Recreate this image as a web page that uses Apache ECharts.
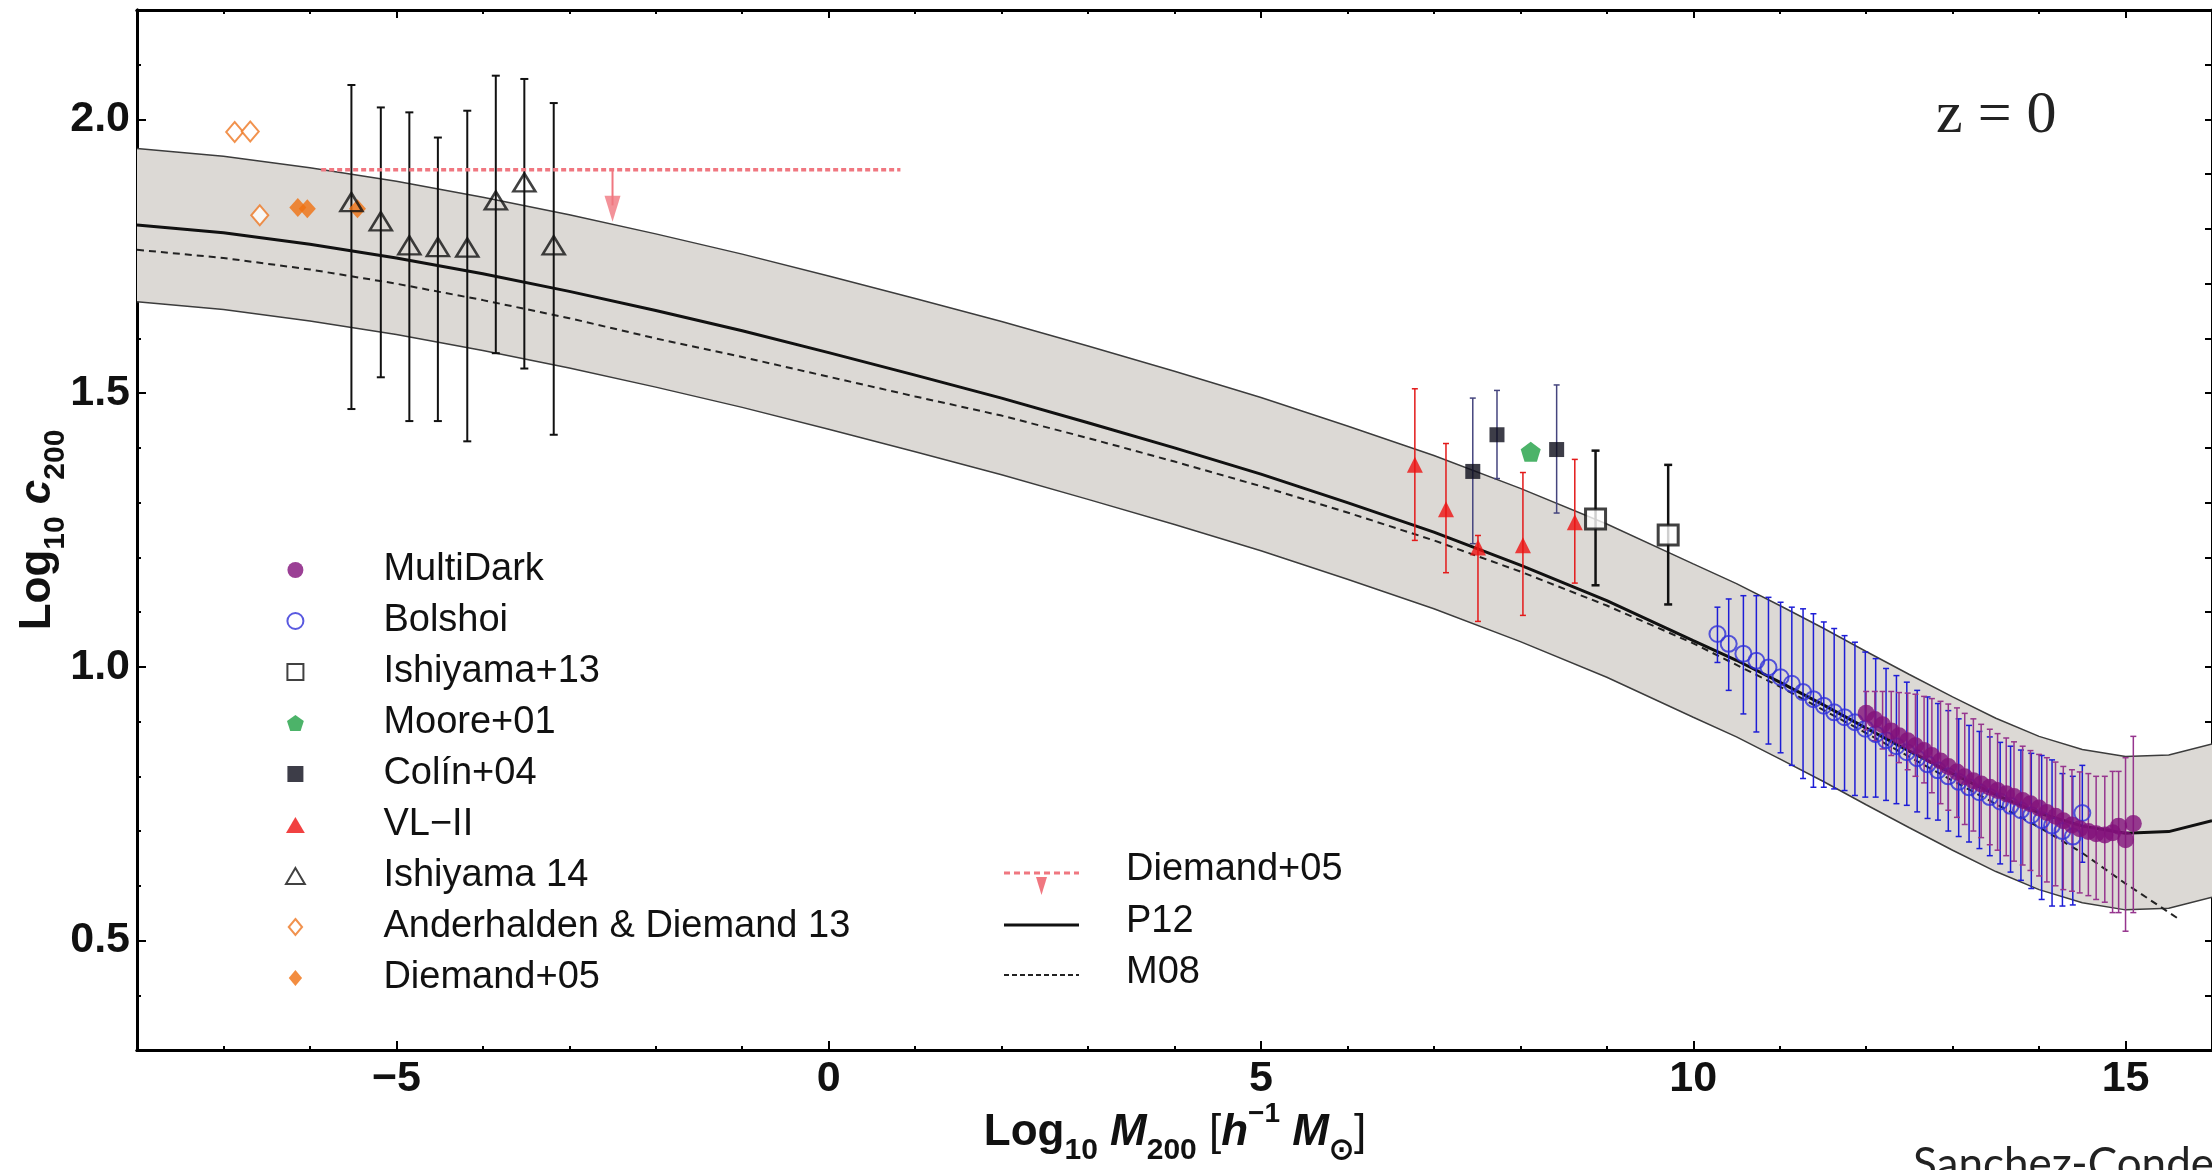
<!DOCTYPE html>
<html>
<head>
<meta charset="utf-8">
<title>Log c200 vs Log M200</title>
<script src="https://cdn.jsdelivr.net/npm/echarts@6/dist/echarts.min.js"></script>
<style>
html,body{margin:0;padding:0;background:#fff;}
#chart{width:2212px;height:1170px;}
</style>
</head>
<body>
<div id="chart"></div>
<script>
// model curves
var curveX = [-8,-7,-6,-5,-4,-3,-2,-1,0,1,2,3,4,5,6,7,8,9,10,10.5,11,11.5,12,12.5,13,13.5,14,14.5,15,15.5,16];
var p12Y   = [1.807,1.793,1.772,1.747,1.718,1.686,1.651,1.614,1.574,1.533,1.491,1.446,1.400,1.352,1.300,1.246,1.186,1.121,1.048,1.012,0.972,0.931,0.888,0.846,0.805,0.766,0.733,0.709,0.696,0.699,0.719];
var bandHi = [1.947,1.933,1.912,1.887,1.858,1.826,1.791,1.754,1.714,1.673,1.631,1.586,1.540,1.492,1.440,1.386,1.326,1.261,1.188,1.152,1.112,1.071,1.028,0.986,0.945,0.906,0.873,0.849,0.836,0.839,0.859];
var bandLo = [1.667,1.653,1.632,1.607,1.578,1.546,1.511,1.474,1.434,1.393,1.351,1.306,1.260,1.212,1.160,1.106,1.046,0.981,0.908,0.872,0.832,0.791,0.748,0.706,0.665,0.626,0.593,0.569,0.556,0.559,0.579];
var m08X = [-8,-7,-6,-5,-4,-3,-2,-1,0,1,2,3,4,5,6,7,8,9,10,11,12,13,14,14.5,15,15.6];
var m08Y = [1.762,1.747,1.726,1.700,1.670,1.637,1.600,1.566,1.530,1.494,1.459,1.418,1.375,1.330,1.282,1.231,1.174,1.112,1.043,0.964,0.879,0.792,0.707,0.660,0.604,0.541];

// MultiDark
var mdX  = [12.00,12.10,12.19,12.29,12.38,12.48,12.57,12.67,12.76,12.86,12.95,13.05,13.14,13.24,13.33,13.43,13.52,13.62,13.71,13.81,13.90,14.00,14.09,14.19,14.28,14.38,14.47,14.57,14.66,14.76,14.85,14.92,15.00,15.09];
var mdY  = [0.915,0.904,0.894,0.883,0.874,0.865,0.856,0.847,0.838,0.828,0.818,0.808,0.799,0.792,0.786,0.780,0.774,0.768,0.763,0.756,0.750,0.742,0.734,0.727,0.719,0.711,0.704,0.699,0.695,0.693,0.697,0.709,0.684,0.714];
var mdHi = [0.955,0.955,0.955,0.955,0.953,0.952,0.950,0.946,0.942,0.937,0.932,0.925,0.915,0.905,0.895,0.886,0.878,0.870,0.863,0.855,0.847,0.840,0.834,0.826,0.818,0.812,0.808,0.805,0.800,0.800,0.809,0.809,0.834,0.873];
var mdLo = [0.885,0.865,0.850,0.838,0.825,0.812,0.800,0.788,0.770,0.750,0.738,0.725,0.712,0.700,0.688,0.675,0.665,0.655,0.645,0.638,0.628,0.618,0.607,0.600,0.593,0.590,0.587,0.582,0.575,0.570,0.551,0.551,0.517,0.551];
// Bolshoi
var bolX  = [10.28,10.41,10.58,10.73,10.87,11.01,11.14,11.27,11.39,11.51,11.63,11.75,11.87,11.99,12.11,12.23,12.35,12.47,12.59,12.71,12.83,12.95,13.07,13.19,13.31,13.43,13.55,13.67,13.79,13.91,14.03,14.15,14.27,14.39,14.50];
var bolY  = [1.060,1.042,1.024,1.011,0.999,0.981,0.969,0.954,0.941,0.929,0.917,0.908,0.899,0.887,0.877,0.866,0.855,0.844,0.833,0.822,0.811,0.800,0.790,0.780,0.771,0.762,0.754,0.746,0.738,0.729,0.720,0.710,0.700,0.690,0.733];
var bolHi = [1.109,1.124,1.130,1.130,1.127,1.118,1.109,1.106,1.097,1.082,1.070,1.057,1.045,1.027,1.015,0.997,0.984,0.972,0.957,0.945,0.933,0.920,0.905,0.893,0.882,0.872,0.862,0.855,0.848,0.842,0.838,0.830,0.805,0.800,0.820];
var bolLo = [1.008,0.957,0.914,0.881,0.859,0.843,0.820,0.796,0.780,0.780,0.777,0.774,0.765,0.762,0.762,0.756,0.750,0.747,0.735,0.723,0.720,0.700,0.690,0.680,0.668,0.655,0.640,0.625,0.610,0.595,0.575,0.563,0.563,0.565,0.643];
// Ishiyama+13
var i13X = [8.87,9.71], i13Y = [1.270,1.241], i13Hi = [1.395,1.369], i13Lo = [1.149,1.114];
// Moore+01
var moX = [8.12], moY = [1.393];
// Colin+04
var coX = [7.45,7.73,8.42], coY = [1.357,1.424,1.397], coHi = [1.491,1.505,1.515], coLo = [1.225,1.344,1.281];
// VL-II
var vlX = [6.78,7.14,7.51,8.03,8.63], vlY = [1.369,1.288,1.218,1.222,1.264];
var vlHi = [1.508,1.408,1.240,1.355,1.379], vlLo = [1.231,1.172,1.083,1.094,1.153];
// Ishiyama 14
var is14X  = [-5.52,-5.18,-4.85,-4.52,-4.18,-3.85,-3.52,-3.18];
var is14Y  = [1.849,1.814,1.770,1.767,1.766,1.852,1.885,1.770];
var is14Hi = [2.063,2.022,2.013,1.967,2.016,2.080,2.074,2.030];
var is14Lo = [1.471,1.529,1.449,1.449,1.412,1.573,1.545,1.424];
// Anderhalden & Diemand 13
var adX = [-6.87,-6.69,-6.58], adY = [1.977,1.978,1.825];
// Diemand+05 (points and upper limit)
var dmX = [-6.14,-6.03,-5.45], dmY = [1.839,1.837,1.837];
var limX = [-5.87,0.83], limY = 1.908, arrowX = -2.5, arrowTip = 1.813;

// ticks
var majorX = [-5,0,5,10,15];
var minorX = [-7,-6,-4,-3,-2,-1,1,2,3,4,6,7,8,9,11,12,13,14];
var majorY = [0.5,1.0,1.5,2.0];
var minorY = [0.4,0.6,0.7,0.8,0.9,1.1,1.2,1.3,1.4,1.6,1.7,1.8,1.9,2.1];
var allY = [0.4,0.5,0.6,0.7,0.8,0.9,1.0,1.1,1.2,1.3,1.4,1.5,1.6,1.7,1.8,1.9,2.0,2.1];

var SANS = '"Liberation Sans", Arial, Helvetica, sans-serif';
var chart = echarts.init(document.getElementById('chart'));

// symbols as paths so the legend keeps their aspect
var SQUARE = 'path://M0,0H10V10H0Z';
var TRI = 'path://M5,0L10,8.5L0,8.5Z';
var DIAMOND = 'path://M5,0L10,6L5,12L0,6Z';
var PENTAGON = 'path://M0,-10L9.51,-3.09L5.88,8.09L-5.88,8.09L-9.51,-3.09Z';

function pairs(xs, ys) {
	return xs.map(function (x, i) { return [x, ys[i]]; });
}
function xAx(pos, vals, len, lab) {
	return {
		type: 'value', min: -8, max: 16, position: pos,
		axisLine: {show: true, onZero: false, lineStyle: {color: '#000', width: 3}},
		axisTick: {show: true, inside: true, length: len, customValues: vals, lineStyle: {color: '#000', width: 2}},
		axisLabel: lab ? {
			show: true, customValues: vals, margin: 8, color: '#111',
			fontFamily: SANS, fontWeight: 'bold', fontSize: 43,
			formatter: function (v) { return String(v).replace('-', '\u2212'); }
		} : {show: false},
		splitLine: {show: false}
	};
}
function yAx(pos, vals, len, lab) {
	return {
		type: 'value', min: 0.3, max: 2.2, position: pos,
		axisLine: {show: true, onZero: false, lineStyle: {color: '#000', width: 3}},
		axisTick: {show: true, inside: true, length: len, customValues: vals, lineStyle: {color: '#000', width: 2}},
		axisLabel: lab ? {
			show: true, customValues: vals, margin: 7, color: '#111',
			fontFamily: SANS, fontWeight: 'bold', fontSize: 43,
			formatter: function (v) { return v.toFixed(1); }
		} : {show: false},
		splitLine: {show: false}
	};
}
// error bars: vertical line with caps
function errBars(xs, lo, hi, color, width, cap, z) {
	return {
		type: 'custom', silent: true, z: z,
		data: xs.map(function (x, i) { return [x, lo[i], hi[i]]; }),
		encode: {x: 0, y: [1, 2]},
		renderItem: function (params, api) {
			var t = api.coord([api.value(0), api.value(2)]);
			var b = api.coord([api.value(0), api.value(1)]);
			var s = {stroke: color, lineWidth: width};
			return {type: 'group', children: [
				{type: 'line', shape: {x1: t[0], y1: t[1], x2: b[0], y2: b[1]}, style: s},
				{type: 'line', shape: {x1: t[0] - cap, y1: t[1], x2: t[0] + cap, y2: t[1]}, style: s},
				{type: 'line', shape: {x1: b[0] - cap, y1: b[1], x2: b[0] + cap, y2: b[1]}, style: s}
			]};
		}
	};
}
function pts(name, xs, ys, symbol, size, style, z) {
	return {
		name: name, type: 'scatter', z: z || 6, silent: true,
		symbol: symbol, symbolSize: size,
		itemStyle: style, data: pairs(xs, ys)
	};
}
function curve(name, xs, ys, style, z) {
	return {
		name: name, type: 'line', z: z, silent: true, symbol: 'none',
		lineStyle: style, data: pairs(xs, ys)
	};
}
function rich(main, sub, sup) {
	return {
		b: {fontFamily: SANS, fontWeight: 'bold', fontSize: main, lineHeight: 66, fill: '#111'},
		r: {fontFamily: SANS, fontSize: main, lineHeight: 66, fill: '#111'},
		i: {fontFamily: SANS, fontWeight: 'bold', fontStyle: 'italic', fontSize: main, lineHeight: 66, fill: '#111'},
		s: {fontFamily: SANS, fontWeight: 'bold', fontSize: sub, lineHeight: 30, verticalAlign: 'bottom', fill: '#111'},
		p: {fontFamily: SANS, fontWeight: 'bold', fontSize: sup, lineHeight: 30, verticalAlign: 'top', fill: '#111'}
	};
}

var series = [
	{
		type: 'custom', silent: true, z: 1,
		data: [[curveX[0], bandLo[0], bandHi[0]]],
		encode: {x: 0, y: [1, 2]},
		renderItem: function (params, api) {
			var p = [];
			for (var i = 0; i < curveX.length; i++) p.push(api.coord([curveX[i], bandHi[i]]));
			for (var j = curveX.length - 1; j >= 0; j--) p.push(api.coord([curveX[j], bandLo[j]]));
			return {type: 'polygon', shape: {points: p}, style: {fill: '#dcd9d5'}};
		}
	},
	curve('band hi', curveX, bandHi, {color: '#3c3c3c', width: 1.5}, 2),
	curve('band lo', curveX, bandLo, {color: '#3c3c3c', width: 1.5}, 2),
	curve('M08', m08X, m08Y, {color: '#222', width: 2, type: [7, 5]}, 3),
	curve('P12', curveX, p12Y, {color: '#111', width: 3}, 3),
	curve('Diemand+05 limit', limX, [limY, limY], {color: '#f07780', width: 3.5, type: [5, 3]}, 4),
	curve('limit arrow', [arrowX, arrowX], [limY, arrowTip + 0.03], {color: '#f07780', width: 2}, 4),
	{
		name: 'arrow head', type: 'scatter', z: 4, silent: true,
		symbol: 'triangle', symbolRotate: 180, symbolSize: [16, 26], symbolOffset: [0, -13],
		itemStyle: {color: '#f07780'}, data: [[arrowX, arrowTip]]
	},
	errBars(is14X, is14Lo, is14Hi, '#111', 2, 4, 4),
	errBars(i13X, i13Lo, i13Hi, '#111', 2.5, 4, 4),
	errBars(coX, coLo, coHi, '#45457e', 1.5, 3, 4),
	errBars(vlX, vlLo, vlHi, '#e31a1a', 1.5, 3, 4),
	errBars(bolX, bolLo, bolHi, '#1d1dd6', 1.5, 3, 4),
	errBars(mdX, mdLo, mdHi, '#96358e', 1.5, 3, 4),
	pts('Bolshoi', bolX, bolY, 'circle', 16, {color: 'rgba(255,255,255,0)', borderColor: '#3030d8', borderWidth: 2}, 5),
	pts('MultiDark', mdX, mdY, 'circle', 17, {color: '#82107a'}, 6),
	pts('Ishiyama+13', i13X, i13Y, SQUARE, 20, {color: '#fff', borderColor: '#111', borderWidth: 3}),
	pts('Moore+01', moX, moY, PENTAGON, 20, {color: '#1fa043'}),
	pts('Colín+04', coX, coY, SQUARE, 15, {color: '#0d0d1a'}),
	pts('VL\u2212II', vlX, vlY, TRI, [16, 16], {color: '#ee1111'}),
	pts('Anderhalden & Diemand 13', adX, adY, DIAMOND, [17, 20], {color: '#fff', borderColor: '#ee7722', borderWidth: 2}),
	pts('Diemand+05', dmX, dmY, DIAMOND, [17, 19], {color: '#f07010'}),
	pts('Ishiyama 14', is14X, is14Y, TRI, [22, 18], {color: 'rgba(255,255,255,0)', borderColor: '#111', borderWidth: 2.5}, 7)
];

var option = {
	animation: false,
	backgroundColor: '#fff',
	grid: {left: 137, top: 10, right: -2, bottom: 120, containLabel: false},
	xAxis: [
		xAx('bottom', majorX, 9, true),
		xAx('bottom', minorX, 4, false),
		xAx('top', majorX, 8, false),
		xAx('top', minorX, 4, false)
	],
	yAxis: [
		yAx('left', majorY, 9, true),
		yAx('left', minorY, 4, false),
		yAx('right', allY, 7, false)
	],
	legend: {
		data: ['MultiDark', 'Bolshoi', 'Ishiyama+13', 'Moore+01', 'Colín+04', 'VL\u2212II', 'Ishiyama 14', 'Anderhalden & Diemand 13', 'Diemand+05'],
		// icon boxes are 166 wide, the drawn icons sit in their middle
		orient: 'vertical', left: 285, top: 550, padding: 0,
		itemWidth: 166, itemHeight: 16, itemGap: 11,
		selectedMode: false, symbolKeepAspect: true,
		textStyle: {fontFamily: SANS, fontSize: 38, color: '#111', lineHeight: 40}
	},
	series: series,
	graphic: [
		{
			type: 'text', x: 38, y: 530, rotation: Math.PI / 2,
			style: {
				text: '{b|Log}{s|10}{b|\u00a0}{i|c}{s|200}', align: 'center', verticalAlign: 'middle',
				rich: rich(44, 30, 28)
			}
		},
		{
			type: 'text', x: 1175, y: 1133,
			style: {
				text: '{b|Log}{s|10}{b|\u00a0}{i|M}{s|200}{r|\u00a0[}{i|h}{p|\u22121}{r|\u00a0}{i|M}{s|\u2299}{r|]}',
				align: 'center', verticalAlign: 'middle',
				rich: rich(44, 30, 28)
			}
		},
		{
			type: 'text', x: 1936, y: 116,
			style: {text: 'z = 0', font: '60px "Liberation Serif", "Times New Roman", serif', fill: '#222', verticalAlign: 'middle'}
		},
		{
			type: 'text', x: 1913, y: 1165,
			style: {text: 'Sanchez-Conde', font: '44px Lato, "Open Sans", sans-serif', fill: '#222', verticalAlign: 'middle'}
		},
		// second legend (model lines)
		{type: 'line', shape: {x1: 1004, y1: 873, x2: 1079, y2: 873}, style: {stroke: '#f07780', lineWidth: 3, lineDash: [6, 4]}},
		{type: 'polygon', shape: {points: [[1036, 877], [1047, 877], [1041.5, 895]]}, style: {fill: '#f07780'}},
		{type: 'text', x: 1126, y: 870, style: {text: 'Diemand+05', font: '38px ' + SANS, fill: '#111', verticalAlign: 'middle'}},
		{type: 'line', shape: {x1: 1004, y1: 925, x2: 1079, y2: 925}, style: {stroke: '#111', lineWidth: 3}},
		{type: 'text', x: 1126, y: 922, style: {text: 'P12', font: '38px ' + SANS, fill: '#111', verticalAlign: 'middle'}},
		{type: 'line', shape: {x1: 1004, y1: 975, x2: 1079, y2: 975}, style: {stroke: '#222', lineWidth: 2, lineDash: [5, 3]}},
		{type: 'text', x: 1126, y: 973, style: {text: 'M08', font: '38px ' + SANS, fill: '#111', verticalAlign: 'middle'}}
	]
};
chart.setOption(option);
</script>
</body>
</html>
